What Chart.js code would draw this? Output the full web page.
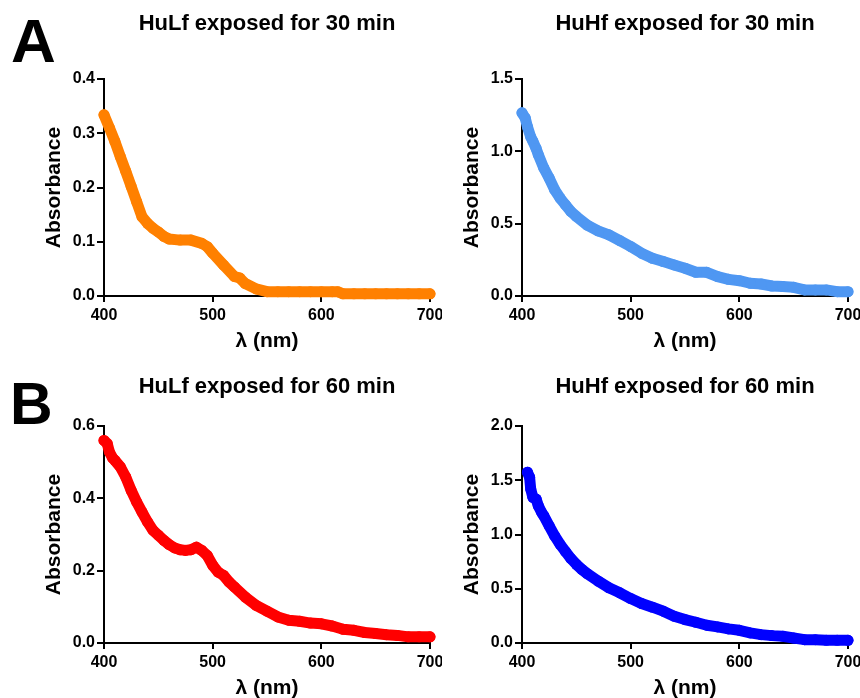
<!DOCTYPE html>
<html>
<head>
<meta charset="utf-8">
<script src="https://cdn.jsdelivr.net/npm/chart.js@4.4.1/dist/chart.umd.min.js"></script>
<style>
  html, body { margin: 0; padding: 0; background: #fff; overflow: hidden; }
  #page { position: relative; width: 860px; height: 698px; overflow: hidden; }
  canvas { position: absolute; }
  .tag { position: absolute; font-family: "Liberation Sans", Arial, sans-serif; font-weight: bold; line-height: 1; color: #000; }
</style>
</head>
<body>
<div id="page">
  <div class="tag" style="left:11px; top:10px; font-size:62px;">A</div>
  <div class="tag" style="left:10px; top:375px; font-size:59px;">B</div>
  <canvas id="a30l" width="442" height="356" style="left:0px; top:0px; width:442px; height:356px;"></canvas>
  <canvas id="a30r" width="442" height="356" style="left:418px; top:0px; width:442px; height:356px;"></canvas>
  <canvas id="b60l" width="442" height="347" style="left:0px; top:356px; width:442px; height:347px;"></canvas>
  <canvas id="b60r" width="442" height="347" style="left:418px; top:356px; width:442px; height:347px;"></canvas>
</div>
<script>
// wavelength (nm) and absorbance
const hulf30X = [400,405,410,415,420,425,430,435,440,445,450,455,460,470,480,490,495,500,510,520,525,530,540,550,560,570,580,590,600,610,615,620,630,640,650,660,670,680,690,700];
const hulf30Y = [0.334,0.31,0.285,0.257,0.23,0.202,0.174,0.146,0.134,0.125,0.118,0.11,0.105,0.103,0.103,0.097,0.091,0.079,0.057,0.036,0.033,0.023,0.013,0.008,0.008,0.008,0.008,0.008,0.008,0.008,0.008,0.004,0.004,0.004,0.004,0.004,0.004,0.004,0.004,0.004];

const huhf30X = [400,403,405,408,410,413,415,420,425,430,435,440,445,450,460,470,480,490,500,510,520,530,540,550,560,570,580,590,600,610,620,630,640,650,660,670,680,690,700];
const huhf30Y = [1.266,1.23,1.17,1.10,1.07,1.02,0.977,0.885,0.815,0.735,0.677,0.63,0.584,0.55,0.49,0.45,0.423,0.383,0.342,0.296,0.261,0.238,0.215,0.192,0.164,0.164,0.134,0.115,0.106,0.088,0.083,0.069,0.065,0.06,0.042,0.042,0.042,0.03,0.03];

const hulf60X = [400,403,405,408,410,415,420,425,430,435,440,445,450,455,460,465,470,475,480,485,490,495,500,505,510,515,520,530,540,550,560,570,580,590,600,610,620,630,640,650,660,670,680,690,700];
const hulf60Y = [0.56,0.551,0.528,0.511,0.505,0.487,0.459,0.422,0.39,0.362,0.335,0.312,0.298,0.284,0.272,0.263,0.258,0.256,0.258,0.265,0.256,0.242,0.215,0.196,0.187,0.169,0.155,0.127,0.104,0.088,0.072,0.063,0.06,0.055,0.053,0.047,0.038,0.035,0.029,0.026,0.023,0.021,0.017,0.017,0.017];

const huhf60X = [405,407,408,410,413,415,418,420,425,430,435,440,445,450,455,460,470,480,490,500,510,520,530,540,550,560,570,580,590,600,610,620,630,640,650,660,670,680,690,700];
const huhf60Y = [1.574,1.528,1.42,1.343,1.327,1.265,1.204,1.173,1.08,0.988,0.91,0.843,0.778,0.725,0.679,0.639,0.571,0.509,0.463,0.41,0.364,0.33,0.293,0.247,0.216,0.191,0.164,0.148,0.13,0.117,0.093,0.077,0.068,0.062,0.046,0.031,0.031,0.025,0.025,0.025];

const xTicks = [400, 500, 600, 700];

const FONT = "'Liberation Sans', Arial, sans-serif";
const INK = "#000";

function makePanel(id, xs, ys, color, title, yMax, yStep, titlePad) {
    const points = xs.map((x, i) => ({ x: x, y: ys[i] }));

    new Chart(document.getElementById(id), {
        type: "line",
        data: {
            datasets: [{
                data: points,
                borderColor: color,
                backgroundColor: color,
                borderWidth: 11,
                borderCapStyle: "round",
                borderJoinStyle: "round",
                pointRadius: 5.5,
                pointBorderWidth: 0,
                pointBackgroundColor: color,
                tension: 0,
                clip: false
            }]
        },
        options: {
            responsive: false,
            animation: false,
            layout: { padding: { left: 40, right: 12, top: 0, bottom: 0 } },
            plugins: {
                legend: { display: false },
                tooltip: { enabled: false },
                title: {
                    display: true,
                    text: title,
                    fullSize: false,
                    color: INK,
                    font: { family: FONT, size: 22, weight: "bold", lineHeight: 1.2 },
                    padding: titlePad
                }
            },
            scales: {
                x: {
                    type: "linear",
                    min: 400,
                    max: 700,
                    afterBuildTicks: (scale) => { scale.ticks = xTicks.map(v => ({ value: v })); },
                    afterFit: (scale) => { scale.height = 60; scale.paddingLeft = 0; scale.paddingRight = 0; },
                    grid: { drawOnChartArea: false, drawTicks: true, tickLength: 6, color: INK, lineWidth: 2 },
                    border: { display: true, color: INK, width: 2 },
                    ticks: { color: INK, padding: 4, maxRotation: 0, font: { family: FONT, size: 16, weight: "bold" } },
                    title: {
                        display: true,
                        text: "λ (nm)",
                        color: INK,
                        font: { family: FONT, size: 21, weight: "bold", lineHeight: 1.2 },
                        padding: { top: 0, bottom: 2 }
                    }
                },
                y: {
                    min: 0,
                    max: yMax,
                    afterFit: (scale) => { scale.width = 64; scale.paddingTop = 0; scale.paddingBottom = 0; },
                    grid: { drawOnChartArea: false, drawTicks: true, tickLength: 7, color: INK, lineWidth: 2 },
                    border: { display: true, color: INK, width: 2 },
                    ticks: {
                        stepSize: yStep,
                        color: INK,
                        padding: 2,
                        font: { family: FONT, size: 16, weight: "bold" },
                        callback: (v) => v.toFixed(1)
                    },
                    title: {
                        display: true,
                        text: "Absorbance",
                        color: INK,
                        font: { family: FONT, size: 21, weight: "bold", lineHeight: 1.2 },
                        padding: { top: 2, bottom: 0 }
                    }
                }
            }
        }
    });
}

const topPad = { top: 11, bottom: 41.6 };
const bottomPad = { top: 18, bottom: 25.6 };

makePanel("a30l", hulf30X, hulf30Y, "#ff8000", "HuLf exposed for 30 min", 0.4, 0.1, topPad);
makePanel("a30r", huhf30X, huhf30Y, "#4f97f2", "HuHf exposed for 30 min", 1.5, 0.5, topPad);
makePanel("b60l", hulf60X, hulf60Y, "#ff0000", "HuLf exposed for 60 min", 0.6, 0.2, bottomPad);
makePanel("b60r", huhf60X, huhf60Y, "#0000ff", "HuHf exposed for 60 min", 2.0, 0.5, bottomPad);
</script>
</body>
</html>
